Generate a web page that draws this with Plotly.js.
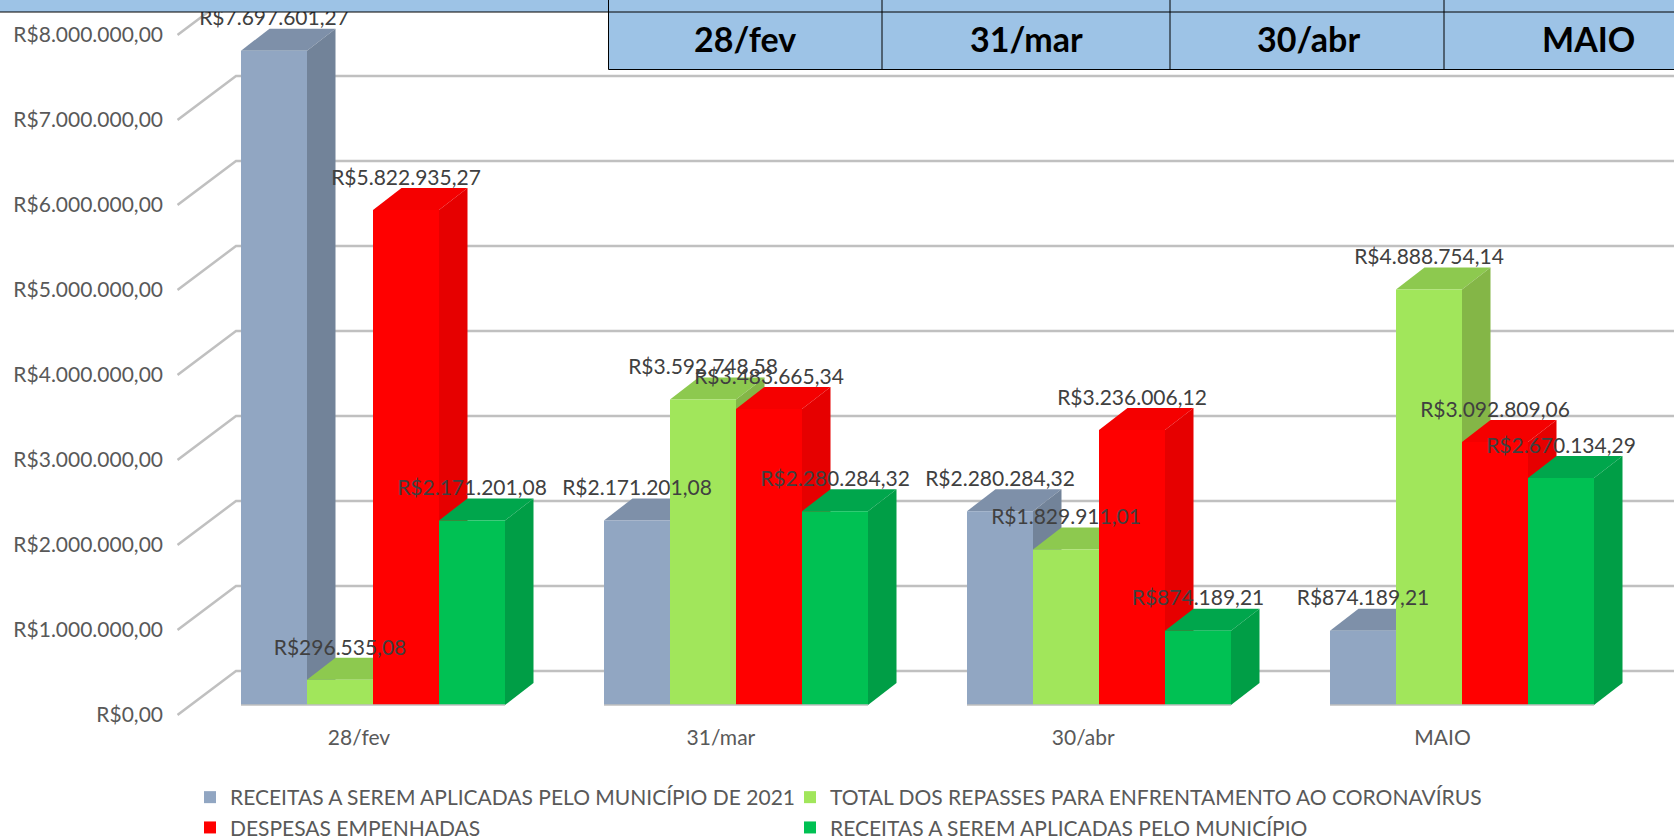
<!DOCTYPE html>
<html><head><meta charset="utf-8">
<script src="https://cdn.plot.ly/plotly-3.0.1.min.js"></script>
<style>html,body{margin:0;padding:0;background:#fff;overflow:hidden}#c{width:1674px;height:839px}</style>
</head><body><div id="c"></div>
<script>
const categories = ['28/fev','31/mar','30/abr','MAIO'];
const receitas2021 = [7697601.27, 2171201.08, 2280284.32, 874189.21];
const repasses = [296535.08, 3592748.58, 1829911.01, 4888754.14];
const despesas = [5822935.27, 3483665.34, 3236006.12, 3092809.06];
const receitasMunicipio = [2171201.08, 2280284.32, 874189.21, 2670134.29];
const seriesNames = ['RECEITAS A SEREM APLICADAS PELO MUNICÍPIO DE 2021','TOTAL DOS REPASSES PARA ENFRENTAMENTO AO CORONAVÍRUS','DESPESAS EMPENHADAS','RECEITAS A SEREM APLICADAS PELO MUNICÍPIO'];
const yTicks = [0,1e6,2e6,3e6,4e6,5e6,6e6,7e6,8e6];
const yTickText = ['R$0,00','R$1.000.000,00','R$2.000.000,00','R$3.000.000,00','R$4.000.000,00','R$5.000.000,00','R$6.000.000,00','R$7.000.000,00','R$8.000.000,00'];
const tableHeaders = ['28/fev','31/mar','30/abr','MAIO'];

const front = ['#91A6C2','#A1E65B','#FF0000','#00C153'];
const side  = ['#728399','#84B647','#E60000','#009E46'];
const topc  = ['#7E90A9','#8DC94F','#F50000','#00A64C'];
const all = [receitas2021, repasses, despesas, receitasMunicipio];

const FONT = 'Lato, Carlito, Calibri, sans-serif';
const W=1674,H=839,L=177,B=723;
const PXX=363, X0=359, PXY=85/1e6, Y0=705;
const xr=[(L-X0)/PXX,(W-X0)/PXX];
const yr=[-(B-Y0)/PXY, Y0/PXY];
const dxp=v=>v/PXX, dyp=v=>v/PXY;
const pxX=p=>(p-X0)/PXX;
const barW=66, firstLeft=241, depthX=28.5, depthY=22;
const fmt=v=>'R$'+v.toFixed(2).replace('.',',').replace(/\B(?=(\d{3})+(?!\d))/g,'.');

const shapes=[];
yTicks.forEach(v=>{
  const yF=v-dyp(10), yW=v+dyp(34);
  shapes.push({type:'path',layer:'below',xref:'x',yref:'y',
    path:`M${pxX(177.5)},${yF}L${pxX(236)},${yW}L${xr[1]},${yW}`,
    line:{color:'#C0C0C0',width:2.5}});
});
const barCenter=(i,k)=>i+(firstLeft-X0+barW*(k+0.5))/PXX;
categories.forEach((c,i)=>{
  all.forEach((s,k)=>{
    const cx=barCenter(i,k), l=cx-dxp(barW/2), r=cx+dxp(barW/2), v=s[i];
    const ex=dxp(depthX), ey=dyp(depthY);
    shapes.push({type:'path',layer:'below',xref:'x',yref:'y',line:{width:0},fillcolor:topc[k],
      path:`M${l},${v}L${l+ex},${v+ey}L${r+ex},${v+ey}L${r},${v}Z`});
    shapes.push({type:'path',layer:'below',xref:'x',yref:'y',line:{width:0},fillcolor:side[k],
      path:`M${r},0L${r+ex},${ey}L${r+ex},${v+ey}L${r},${v}Z`});
  });
  shapes.push({type:'line',layer:'above',xref:'x',yref:'y',
    x0:barCenter(i,0)-dxp(barW/2),x1:barCenter(i,3)+dxp(barW/2),y0:0,y1:0,
    line:{color:'#BFBFBF',width:1.5}});
});
const tableEdges=[608.5,882,1170,1444,1674];
const py=p=>1-p/B, qx=p=>(p-L)/(W-L);
const rect=(x0,y0,x1,y1)=>({type:'rect',layer:'above',xref:'paper',yref:'paper',
  x0:qx(x0),x1:qx(x1),y0:py(y1),y1:py(y0),fillcolor:'#9DC3E6',line:{width:0}});
const seg=(x0,y0,x1,y1)=>({type:'line',layer:'above',xref:'paper',yref:'paper',
  x0:qx(x0),x1:qx(x1),y0:py(y0),y1:py(y1),line:{color:'#000',width:1}});
shapes.push(rect(0,0,W,12));
shapes.push(rect(608.5,12,W,69.5));
shapes.push(seg(0,12,W,12));
shapes.push(seg(608.5,69.5,W,69.5));
tableEdges.slice(0,4).forEach(x=>shapes.push(seg(x,0,x,69.5)));

const annotations=tableHeaders.map((t,i)=>({
  xref:'paper',yref:'paper',x:qx([745,1026,1308,1588][i]),y:py(38.5),text:'<b>'+t+'</b>',showarrow:false,
  xanchor:'center',yanchor:'middle',font:{family:FONT,size:34,color:'#000'}}));

const traces=[];
all.forEach((s,k)=>{
  traces.push({type:'bar',name:seriesNames[k],x:categories.map((c,i)=>barCenter(i,k)),y:s,
    legend:(k%2===0)?'legend':'legend2',legendgroup:'g'+k,
    width:categories.map(()=>dxp(barW)),marker:{color:front[k],line:{width:0}},hoverinfo:'y+name'});
});
all.forEach((s,k)=>{
  traces.push({type:'scatter',mode:'text',showlegend:false,hoverinfo:'skip',cliponaxis:false,
    x:categories.map((c,i)=>barCenter(i,k)),y:s.map(v=>v+dyp(20)),
    text:s.map(fmt),textposition:'top center',textfont:{family:FONT,size:21,color:'#404040'}});
});

const legendBase={orientation:'v',xanchor:'left',yanchor:'top',y:py(777),tracegroupgap:6,
  font:{family:FONT,size:21,color:'#595959'},bgcolor:'rgba(0,0,0,0)',traceorder:'normal'};

Plotly.newPlot('c',traces,{
  width:W,height:H,paper_bgcolor:'#fff',plot_bgcolor:'rgba(0,0,0,0)',
  margin:{l:L,r:0,t:0,b:H-B,pad:0,autoexpand:false},
  barmode:'overlay',showlegend:true,
  font:{family:FONT,color:'#595959',size:21},
  xaxis:{type:'linear',range:xr,tickmode:'array',tickvals:[0,0.997,1.995,2.985],ticktext:categories,
    showgrid:false,zeroline:false,showline:false,ticks:'',tickfont:{family:FONT,size:21,color:'#595959'}},
  yaxis:{type:'linear',range:yr,tickmode:'array',tickvals:yTicks,ticktext:yTickText,
    showgrid:false,zeroline:false,showline:false,ticks:'',ticklabelshift:10,ticklabelstandoff:13,
    tickfont:{family:FONT,size:21,color:'#595959'}},
  legend:Object.assign({},legendBase,{x:qx(190)}),
  legend2:Object.assign({},legendBase,{x:qx(790)}),
  shapes,annotations
},{displayModeBar:false});
</script></body></html>
